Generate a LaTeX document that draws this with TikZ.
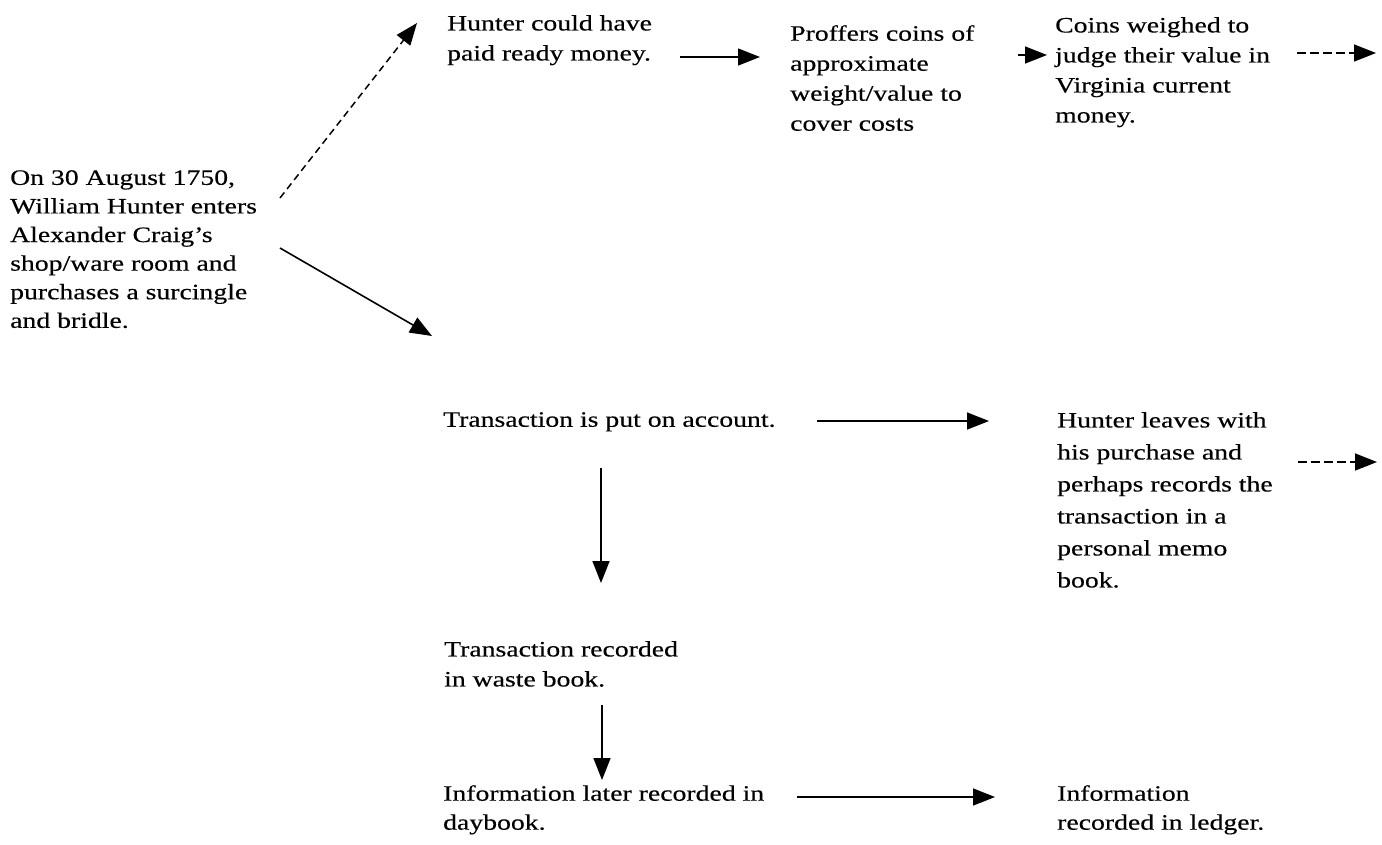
\documentclass[tikz,border=0pt]{standalone}
\usepackage{fontspec}
\setmainfont[FakeStretch=1.26,FakeBold=0.35]{Liberation Serif}
\usetikzlibrary{arrows.meta}
\begin{document}
\begin{tikzpicture}[x=1pt,y=-1pt,
  txt/.style={anchor=north west, inner sep=0pt, align=left,
              font=\fontsize{22}{#1}\selectfont},
  txt/.default=30,
  arr/.style={-{Triangle[length=22pt,width=17pt]}, line width=1.6pt},
  dsh/.style={arr, dash pattern=on 9pt off 4pt}]
\useasboundingbox (0,0) rectangle (1382,844);

% text blocks
\node[txt=28.6] (start) at (10,170) {On 30 August 1750,\\William Hunter enters\\Alexander Craig’s\\shop/ware room and\\purchases a surcingle\\and bridle.};
\node[txt] (paid) at (447,15) {Hunter could have\\paid ready money.};
\node[txt] (proffer) at (790,25) {Proffers coins of\\approximate\\weight/value to\\cover costs};
\node[txt] (coins) at (1055,17) {Coins weighed to\\judge their value in\\Virginia current\\money.};
\node[txt] (acct) at (443,412) {Transaction is put on account.};
\node[txt=32] (leaves) at (1057,412) {Hunter leaves with\\his purchase and\\perhaps records the\\transaction in a\\personal memo\\book.};
\node[txt] (waste) at (444,641) {Transaction recorded\\in waste book.};
\node[txt=29] (day) at (443,785) {Information later recorded in\\daybook.};
\node[txt=29] (ledger) at (1057,785) {Information\\recorded in ledger.};

% arrow ends
\coordinate (s-up)   at (280,198);
\coordinate (paid-in) at (417,23);
\coordinate (s-down) at (280,248);
\coordinate (acct-in) at (432,336);
\coordinate (paid-out) at (680,57);
\coordinate (proffer-in) at (760,57);
\coordinate (proffer-out) at (1018,55);
\coordinate (coins-in) at (1047,55);
\coordinate (coins-out) at (1297,53);
\coordinate (coins-next) at (1376,53);
\coordinate (acct-out) at (817,421);
\coordinate (leaves-in) at (989,421);
\coordinate (leaves-out) at (1298,462);
\coordinate (leaves-next) at (1377,462);
\coordinate (acct-down) at (601,468);
\coordinate (waste-in) at (601,583);
\coordinate (waste-down) at (602,705);
\coordinate (day-in) at (602,780);
\coordinate (day-out) at (797,797);
\coordinate (ledger-in) at (995,797);

% connectors
\draw[arr, line width=1.5pt, dash pattern=on 7pt off 4.5pt] (s-up) -- (paid-in);
\draw[arr] (s-down) -- (acct-in);
\draw[arr, line width=1.4pt] (paid-out) -- (proffer-in);
\draw[arr] (proffer-out) -- (coins-in);
\draw[dsh] (coins-out) -- (coins-next);
\draw[arr] (acct-out) -- (leaves-in);
\draw[dsh] (leaves-out) -- (leaves-next);
\draw[arr] (acct-down) -- (waste-in);
\draw[arr] (waste-down) -- (day-in);
\draw[arr] (day-out) -- (ledger-in);
\end{tikzpicture}
\end{document}
